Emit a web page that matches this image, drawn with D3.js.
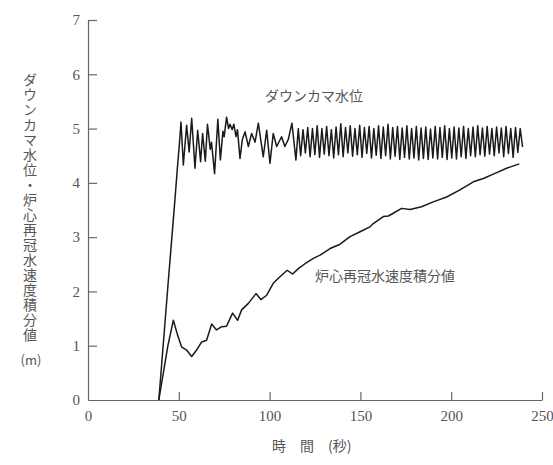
<!DOCTYPE html>
<html>
<head>
<meta charset="utf-8">
<script src="https://cdn.jsdelivr.net/npm/d3@7"></script>
<style>
  html, body { margin: 0; padding: 0; background: #fff; }
  svg { display: block; }
  .jp { font-family: "Noto Sans CJK JP", sans-serif; fill: #555; }
</style>
</head>
<body>
<svg id="chart" width="553" height="465"></svg>
<script>
// Axis ticks
const xTicks = [0, 50, 100, 150, 200, 250];
const yTicks = [0, 1, 2, 3, 4, 5, 6, 7];

// Downcomer water level (m) versus time (s)
const dcTime = [
  39, 44, 47.9, 49.4, 50.3, 51.2, 52.5, 54.3, 55.7, 57.1, 58.9, 60.4, 62.0, 63.1, 64.6,
  65.8, 67.3, 68.0, 69.7, 71.5, 72.9, 74.3, 75.0, 76.3, 77.4, 78.2, 79.4, 80.3, 81.5,
  82.3, 83.7, 85.0, 86.5, 88.3, 90.1, 92.0, 93.8, 96.5, 98.4, 100.2, 102.0, 103.9,
  106.6, 108.4, 110.3, 112.3,
  114.5, 115.8, 117.1, 118.4, 119.7, 121.0, 122.3, 123.6, 124.9, 126.2, 127.5, 128.8,
  130.1, 131.4, 132.7, 134.0, 135.3, 136.6, 137.9, 139.2, 140.5, 141.8, 143.1, 144.4,
  145.7, 147.0, 148.3, 149.6, 150.9, 152.2, 153.5, 154.8, 156.1, 157.4, 158.7, 160.0,
  161.3, 162.6, 163.9, 165.2, 166.5, 167.8, 169.1, 170.4, 171.7, 173.0, 174.3, 175.6,
  176.9, 178.2, 179.5, 180.8, 182.1, 183.4, 184.7, 186.0, 187.3, 188.6, 189.9, 191.2,
  192.5, 193.8, 195.1, 196.4, 197.7, 199.0, 200.3, 201.6, 202.9, 204.2, 205.5, 206.8,
  208.1, 209.4, 210.7, 212.0, 213.3, 214.6, 215.9, 217.2, 218.5, 219.8, 221.1, 222.4,
  223.7, 225.0, 226.3, 227.6, 228.9, 230.2, 231.5, 232.8, 234.1, 235.4, 236.7, 238.0,
  239.3
];
const dcLevel = [
  0, 2.1, 3.7, 4.35, 4.7, 5.12, 4.33, 5.06, 4.57, 5.19, 4.27, 4.97, 4.39, 4.91, 4.40,
  5.08, 4.62, 4.75, 4.17, 5.17, 4.42, 4.95, 4.85, 5.21, 5.00, 5.08, 4.98, 5.08, 4.85,
  4.98, 4.45, 4.80, 4.94, 4.67, 4.91, 4.75, 5.10, 4.48, 4.97, 4.36, 4.91, 4.67,
  4.85, 4.67, 4.80, 5.10,
  4.42, 5.00, 4.50, 4.98, 4.55, 5.02, 4.48, 5.00, 4.52, 5.05, 4.47, 5.00,
  4.53, 5.04, 4.50, 4.98, 4.46, 5.03, 4.52, 5.09, 4.48, 5.02, 4.55, 5.05,
  4.49, 5.00, 4.52, 5.06, 4.47, 5.02, 4.54, 5.04, 4.46, 5.00, 4.51, 5.05,
  4.45, 5.03, 4.50, 5.08, 4.44, 5.02, 4.49, 5.04, 4.43, 5.01, 4.47, 5.05,
  4.44, 5.00, 4.46, 5.04, 4.42, 5.01, 4.45, 5.03, 4.43, 4.99, 4.46, 5.04,
  4.44, 5.02, 4.47, 5.05, 4.43, 5.00, 4.46, 5.03, 4.44, 5.01, 4.48, 5.04,
  4.45, 5.00, 4.50, 5.03, 4.48, 5.05, 4.52, 5.01, 4.49, 5.04, 4.53, 5.00,
  4.50, 5.03, 4.55, 5.01, 4.48, 5.04, 4.54, 5.00, 4.47, 5.02, 4.56, 5.00,
  4.66
];

// Integrated core reflood velocity (m) versus time (s)
const crTime = [
  39, 44, 47.0, 49.3, 51.5, 54.3, 57.1, 59.8, 62.6, 65.3, 68.1, 70.8, 73.6, 76.3,
  79.6, 82.4, 84.6, 88.3, 92.5, 95.2, 98.4, 102.0, 105.7, 109.7, 112.7, 115.8, 119.5,
  124.1, 127.8, 133.3, 138.8, 144.3, 149.8, 155.3, 157.1, 162.6, 165.4, 168.1, 172.7,
  177.3, 183.7, 190.1, 197.5, 204.8, 212.2, 217.7, 223.2, 230.5, 237.5
];
const crValue = [
  0, 1.0, 1.47, 1.20, 0.98, 0.92, 0.80, 0.92, 1.07, 1.10, 1.40, 1.29, 1.35, 1.36,
  1.60, 1.47, 1.66, 1.78, 1.96, 1.85, 1.93, 2.15, 2.27, 2.39, 2.32, 2.42, 2.51,
  2.61, 2.67, 2.79, 2.87, 3.01, 3.10, 3.19, 3.25, 3.38, 3.39, 3.44, 3.53,
  3.51, 3.56, 3.65, 3.74, 3.87, 4.02, 4.08, 4.16, 4.27, 4.35
];

const svg = d3.select("#chart");

const x = d3.scaleLinear().domain([0, 250]).range([88, 542]);
const y = d3.scaleLinear().domain([0, 7]).range([400, 20]);

// Axes with inward ticks
const xAxis = d3.axisBottom(x).tickValues(xTicks).tickFormat(d3.format("d"))
  .tickSizeInner(-8).tickSizeOuter(0).tickPadding(10);
const yAxis = d3.axisLeft(y).tickValues(yTicks).tickFormat(d3.format("d"))
  .tickSizeInner(-9).tickSizeOuter(0).tickPadding(8);

const gx = svg.append("g").attr("transform", "translate(0,400)").call(xAxis);
const gy = svg.append("g").attr("transform", "translate(88,0)").call(yAxis);

[gx, gy].forEach(g => {
  g.attr("font-family", "'Liberation Serif', 'DejaVu Serif', serif").attr("font-size", 15);
  g.selectAll(".domain").attr("stroke", "#666").attr("stroke-width", 1.2);
  g.selectAll(".tick line").attr("stroke", "#666").attr("stroke-width", 1.2);
  g.selectAll(".tick text").attr("fill", "#555");
});
gx.selectAll(".tick").filter(d => d === 0).select("line").remove();
gy.selectAll(".tick").filter(d => d === 0).select("line").remove();

// Curves
const line = d3.line().x(d => x(d[0])).y(d => y(d[1]));

svg.append("path")
  .datum(crTime.map((t, i) => [t, crValue[i]]))
  .attr("d", line)
  .attr("fill", "none")
  .attr("stroke", "#1a1a1a")
  .attr("stroke-width", 1.5)
  .attr("stroke-linejoin", "round");

svg.append("path")
  .datum(dcTime.map((t, i) => [t, dcLevel[i]]))
  .attr("d", line)
  .attr("fill", "none")
  .attr("stroke", "#1a1a1a")
  .attr("stroke-width", 1.5)
  .attr("stroke-linejoin", "round");

// Curve labels
svg.append("text").attr("class", "jp")
  .attr("x", 265).attr("y", 101).attr("font-size", 14)
  .text("ダウンカマ水位");

svg.append("text").attr("class", "jp")
  .attr("x", 315).attr("y", 281).attr("font-size", 14)
  .text("炉心再冠水速度積分値");

// Axis titles
svg.append("text").attr("class", "jp")
  .attr("x", 30).attr("y", 73).attr("font-size", 14)
  .style("writing-mode", "vertical-rl")
  .style("letter-spacing", "1px")
  .text("ダウンカマ水位・炉心再冠水速度積分値");

svg.append("text").attr("class", "jp")
  .attr("x", 31).attr("y", 365).attr("font-size", 13)
  .attr("text-anchor", "middle")
  .text("(m)");

svg.append("text").attr("class", "jp")
  .attr("x", 272).attr("y", 451).attr("font-size", 14)
  .style("white-space", "pre")
  .text("時　間　(秒)");
</script>
</body>
</html>
